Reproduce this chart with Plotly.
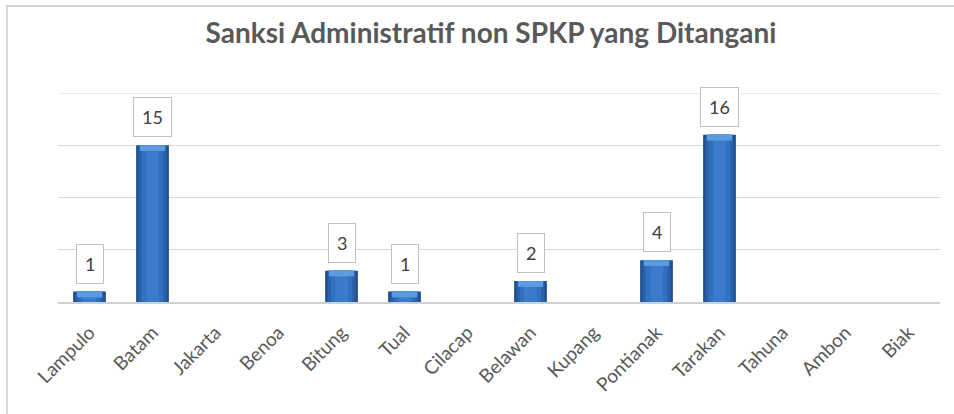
import plotly.graph_objects as go

categories = ["Lampulo", "Batam", "Jakarta", "Benoa", "Bitung", "Tual", "Cilacap",
              "Belawan", "Kupang", "Pontianak", "Tarakan", "Tahuna", "Ambon", "Biak"]
values = [1, 15, 0, 0, 3, 1, 0, 2, 0, 4, 16, 0, 0, 0]
y_ticks = [0, 5, 10, 15, 20]
title_text = "Sanksi Administratif non SPKP yang Ditangani"

FONT = "Lato"
fig = go.Figure()

# layered bars to imitate the horizontal gradient
layers = [(0.52, "#1f4f8e"), (0.44, "#2962ab"), (0.34, "#3170bf"), (0.20, "#3b7bcc")]
for w, c in layers:
    fig.add_trace(go.Bar(x=categories, y=values, width=w, marker=dict(color=c, line=dict(width=0)),
                         hoverinfo="skip", showlegend=False))

# light bevel at top of each bar
bevel = 0.55
tops = [v if v > 0 else None for v in values]
fig.add_trace(go.Bar(x=categories, y=[bevel if v else None for v in tops],
                     base=[(v - bevel) if v else None for v in tops], width=0.40,
                     marker=dict(color="#5d9be0", line=dict(width=0)),
                     hoverinfo="skip", showlegend=False))

annotations = []
for c, v in zip(categories, values):
    if v > 0:
        annotations.append(dict(x=c, y=v, xref="x", yref="y", text=str(v), showarrow=False,
                                yanchor="bottom", yshift=8,
                                font=dict(family=FONT, size=18, color="#404040"),
                                bgcolor="white", bordercolor="#bfbfbf", borderwidth=1, borderpad=8))

L, R, T, B = 58, 14, 93, 112
W, H = 954, 414
pw, ph = W - L - R, H - T - B


def px(x):
    return (x - L) / pw


def py(y):
    return (H - B - y) / ph


shapes = [
    dict(type="line", xref="paper", yref="paper", x0=px(6), x1=px(960), y0=py(6), y1=py(6),
         line=dict(color="#d4d4d4", width=2), layer="above"),
    dict(type="line", xref="paper", yref="paper", x0=px(7), x1=px(7), y0=py(6), y1=py(420),
         line=dict(color="#d9d9d9", width=2), layer="below"),
    dict(type="line", xref="paper", yref="y", x0=0, x1=1, y0=y_ticks[-1], y1=y_ticks[-1],
         line=dict(color="#d9d9d9", width=1), layer="below"),
]

fig.update_layout(
    width=W, height=H,
    margin=dict(l=L, r=R, t=T, b=B),
    paper_bgcolor="white", plot_bgcolor="white",
    barmode="overlay",
    title=dict(text="<b>" + title_text + "</b>", xref="container", x=491 / W, xanchor="center",
               yref="container", y=1 - 33 / H, yanchor="middle",
               font=dict(family=FONT, size=28, color="#595959")),
    xaxis=dict(type="category", categoryorder="array", categoryarray=categories,
               range=[-0.5, len(categories) - 0.5],
               tickangle=-45, tickfont=dict(family=FONT, size=19, color="#595959"),
               showline=True, linecolor="#d0d0d0", linewidth=2, showgrid=False,
               ticks="", ticklabelstandoff=10),
    yaxis=dict(range=[0, 20], tickvals=y_ticks, showticklabels=False, showgrid=True,
               gridcolor="#d9d9d9", gridwidth=1, zeroline=False, showline=False),
    annotations=annotations,
    shapes=shapes,
)

fig.write_html("out.html", config={"displayModeBar": False},
               post_script="document.body.style.margin='0';")
